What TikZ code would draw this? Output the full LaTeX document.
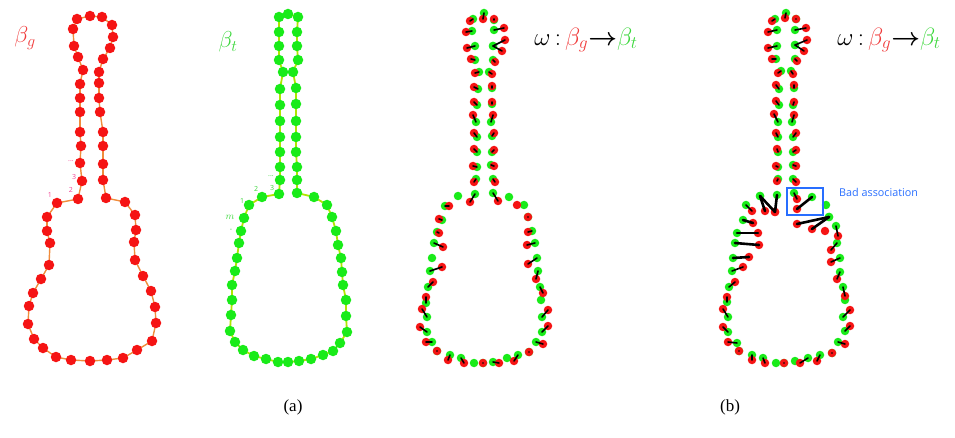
\RequirePackage{fix-cm}
\documentclass[tikz,border=0pt]{standalone}
\usepackage{fontspec}
\setmainfont{Liberation Serif}
\newfontfamily\tagfont{Open Sans}
\usetikzlibrary{backgrounds}
\definecolor{gtRed}{RGB}{245,20,20}
\definecolor{gtGreen}{RGB}{25,235,25}
\definecolor{gtOrange}{RGB}{240,140,60}
\definecolor{gtLime}{RGB}{175,230,0}
\definecolor{gtPink}{RGB}{240,70,150}
\definecolor{gtBlue}{RGB}{40,110,255}
\definecolor{lblRed}{RGB}{240,60,60}
\definecolor{lblGreen}{RGB}{60,215,60}

% outline of the guitar, source shape (panel 1)
\newcommand\shapeG{57/203, 78/199, 82/181, 80/163, 81/146, 80/132, 80/112, 80/98, 80/84, 83/70,
  78/57, 74/46, 73/29, 77/19, 90/16, 102/17, 112/25, 113/37, 110/48, 103/59,
  99/72, 99/83, 99/98, 100/112, 103/132, 103/146, 103/164, 103/180, 106/198,
  125/202, 135/215, 136/230, 134/242, 135/260, 143/276, 151/291, 155/307, 156/323, 152/341,
  137/350, 123/358, 107/360, 90/361, 71/360, 56/357, 43/348, 34/339, 28/324, 29/306,
  33/293, 41/279, 49/265, 50/243, 47/231, 47/217}
% outline of the guitar, target shape (panel 2)
\newcommand\shapeT{249/205, 262/197, 279/194, 280/180, 280/167, 280/152, 280/137, 280/121, 280/105, 280/89,
  283/72, 279/60, 279/46, 279/32, 279/17, 288/14, 298/17, 297/32, 297/46, 298/60,
  293/72, 296/88, 296/104, 296/121, 296/137, 296/152, 297/167, 297/180, 297/193,
  314/197, 327/205, 332/217, 336/231, 338/245, 341/258, 342/272, 343/285, 346/300, 346/316,
  347/332, 340/343, 333/351, 323/355, 311/359, 299/361, 288/362, 278/362, 266/359, 254/356, 243/350,
  235/342, 230/331, 231/315, 232/300, 232/285, 235/271, 237/258, 239/243, 241/231, 244/218}
% green / red pairs, panel 3
\newcommand\pairsA{484/13/483/19, 473/19/470/21, 494/20/494/19, 472/31/466/32, 494/30/504/28,
  475/46/467/48, 493/46/505/40, 493/46/502/51, 475/60/471/59, 493/60/495/62,
  479/72/475/73, 478/89/474/87, 477/105/474/102, 476/122/473/115, 477/137/474/133,
  477/152/474/149, 477/167/473/166, 476/179/474/182,
  489/72/492/74, 492/88/492/86, 492/104/492/102, 491/122/493/115, 492/136/494/133,
  492/152/494/150, 491/165/494/166, 493/179/495/182,
  475/194/470/202, 493/193/498/201, 445/206/449/206, 442/220/439/219, 528/217/528/217,
  437/232/439/233, 532/231/528/232, 434/243/443/247, 535/243/527/245, 430/271/442/267,
  537/258/528/264, 538/271/536/279, 428/287/433/282, 540/287/543/293, 426/303/426/297,
  427/317/422/309, 542/317/548/310, 427/332/420/327, 542/332/548/326, 432/342/426/342,
  536/342/543/344, 437/351/437/351, 450/355/448/360, 461/358/464/363, 483/363/483/363,
  493/362/499/363, 518/355/514/361, 529/352/529/352}
\newcommand\loneA{458/196, 509/197, 524/205, 432/258, 541/300, 474/363, 507/358}
% green / red pairs, panel 4
\newcommand\pairsB{786/13/785/18, 775/19/772/21, 796/19/796/19, 777/30/768/32, 795/30/806/28,
  777/46/768/48, 795/45/807/40, 795/45/804/51, 776/59/772/59, 795/59/797/61,
  781/71/778/73, 779/89/776/85, 779/105/776/101, 778/122/774/114, 778/137/776/133,
  778/152/777/149, 778/167/776/166, 778/179/777/181,
  791/71/793/74, 794/88/794/85, 793/105/794/102, 792/122/794/115, 793/137/796/133,
  793/152/796/150, 793/165/796/166, 793/179/796/182,
  794/193/797/199, 836/226/838/236, 837/243/831/250, 840/258/831/262, 840/272/837/279,
  843/287/845/296, 843/317/850/310, 845/331/850/326, 838/342/845/344, 832/353/832/353,
  820/355/817/361, 808/358/800/363, 784/363/784/363, 763/358/765/363, 752/355/752/360,
  739/351/739/351, 737/343/728/342, 728/332/723/327, 728/317/723/309, 727/302/727/297,
  729/287/735/282, 746/205/752/211, 732/271/743/267}
\newcommand\badB{812/197/797/209, 760/196/765/211, 760/196/775/212, 777/195/775/212,
  829/217/797/224, 829/217/812/229, 743/220/753/223, 737/233/758/233, 735/243/759/245,
  733/258/749/257}
\newcommand\loneB{826/205, 845/300, 795/361, 776/363}

\begin{document}
\begin{tikzpicture}[x=1pt, y=-1pt,
  bdot/.style={circle, inner sep=0pt, minimum size=10.5pt, fill=#1},
  sdot/.style={circle, inner sep=0pt, minimum size=8.5pt, fill=#1},
  link/.style={line width=1.6pt, line cap=round},
  badlink/.style={line width=2.6pt, line cap=round},
  idx/.style={font=\tagfont\fontsize{7}{8}\selectfont, inner sep=0pt},
  sym/.style={font=\fontsize{23}{26}\selectfont, inner sep=0pt},
  maptitle/.style={font=\fontsize{25}{28}\selectfont, inner sep=0pt},
  captext/.style={font=\fontsize{17}{20}\selectfont, inner sep=0pt}
]
  \path[use as bounding box] (0,0) rectangle (955,438);

  % panel 1: beta_g
  \foreach \x/\y [count=\i] in \shapeG {\node[bdot=gtRed] (g\i) at (\x,\y) {}; \xdef\nG{\i}}
  \begin{scope}[on background layer]
    \foreach \i [remember=\i as \j (initially \nG)] in {1,...,\nG}
      \draw[gtOrange, line width=1.4pt] (g\j.center) -- (g\i.center);
  \end{scope}
  \node[sym, text=lblRed] (betaG) at (25,38) {$\beta_g$};
  \node[idx, text=gtPink] (g1lbl) at (50,195) {1};
  \node[idx, text=gtPink] (g2lbl) at (71,190) {2};
  \node[idx, text=gtPink] (g3lbl) at (74,177) {3};
  \node[idx, text=gtPink] (gdots) at (71,161) {...};

  % panel 2: beta_t
  \foreach \x/\y [count=\i] in \shapeT {\node[bdot=gtGreen] (t\i) at (\x,\y) {}; \xdef\nT{\i}}
  \begin{scope}[on background layer]
    \foreach \i [remember=\i as \j (initially \nT)] in {1,...,\nT}
      \draw[gtLime, line width=1.8pt] (t\j.center) -- (t\i.center);
  \end{scope}
  \node[sym, text=lblGreen] (betaT) at (228,42) {$\beta_t$};
  \node[idx, text=lblGreen] (t1lbl) at (242,201) {1};
  \node[idx, text=lblGreen] (t2lbl) at (256,189) {2};
  \node[idx, text=lblGreen] (t3lbl) at (272,188) {3};
  \node[idx, text=lblGreen] (tdots) at (271,176) {...};
  \node[idx, text=lblGreen, font=\fontsize{10}{11}\selectfont] (tmlbl) at (230,217) {$m$};
  \node[idx, text=lblGreen] (tminus) at (231,230) {-};

  % panel 3: association
  \foreach \gx/\gy/\rx/\ry [count=\i] in \pairsA {\node[sdot=gtGreen] (ag\i) at (\gx,\gy) {};}
  \foreach \x/\y [count=\i] in \loneA {\node[sdot=gtGreen] (al\i) at (\x,\y) {};}
  \node[sdot=gtRed] (alr) at (517,205) {};
  \foreach \gx/\gy/\rx/\ry [count=\i] in \pairsA {\node[sdot=gtRed] (ar\i) at (\rx,\ry) {};}
  \foreach \gx/\gy/\rx/\ry [count=\i] in \pairsA {\draw[link] (ag\i.center) -- (ar\i.center);}
  \node[maptitle] (mapA) at (586,40)
    {$\omega\,{:}\,\textcolor{lblRed}{\beta_g}\mbox{\boldmath$\rightarrow$}\textcolor{lblGreen}{\beta_t}$};

  % panel 4: association with a bad match
  \foreach \gx/\gy/\rx/\ry [count=\i] in \pairsB {\node[sdot=gtGreen] (bg\i) at (\gx,\gy) {};}
  \foreach \gx/\gy/\rx/\ry [count=\i] in \badB {\node[sdot=gtGreen] (xg\i) at (\gx,\gy) {};}
  \foreach \x/\y [count=\i] in \loneB {\node[sdot=gtGreen] (bl\i) at (\x,\y) {};}
  \node[sdot=gtRed] (blr) at (825,231) {};
  \foreach \gx/\gy/\rx/\ry [count=\i] in \pairsB {\node[sdot=gtRed] (br\i) at (\rx,\ry) {};}
  \foreach \gx/\gy/\rx/\ry [count=\i] in \badB {\node[sdot=gtRed] (xr\i) at (\rx,\ry) {};}
  \foreach \gx/\gy/\rx/\ry [count=\i] in \pairsB {\draw[link] (bg\i.center) -- (br\i.center);}
  \foreach \gx/\gy/\rx/\ry [count=\i] in \badB {\draw[badlink] (xg\i.center) -- (xr\i.center);}
  \node[maptitle] (mapB) at (889,40)
    {$\omega\,{:}\,\textcolor{lblRed}{\beta_g}\mbox{\boldmath$\rightarrow$}\textcolor{lblGreen}{\beta_t}$};
  \node[draw=gtBlue, line width=2pt, minimum width=36pt, minimum height=27pt] (badbox) at (805,201.5) {};
  \node[anchor=west, text=gtBlue, font=\tagfont\fontsize{10.8}{12}\selectfont, inner sep=0pt] (badtxt) at (839,192) {Bad association};

  % captions
  \node[captext] (capA) at (293,407) {(a)};
  \node[captext] (capB) at (730,407) {(b)};
\end{tikzpicture}
\end{document}
